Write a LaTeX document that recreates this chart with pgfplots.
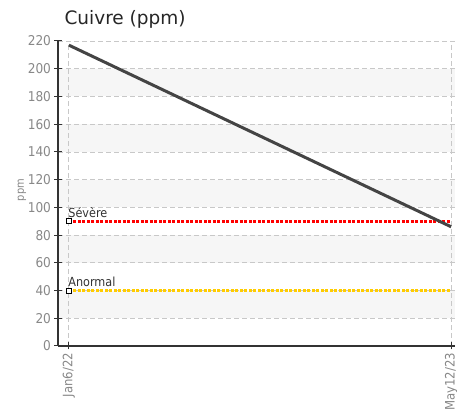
\documentclass[border=0pt]{standalone}
\usepackage{fontspec}
\setmainfont{DejaVu Sans}
\newfontfamily\condfont{DejaVu Sans Condensed}
\usepackage{pgfplots}
\pgfplotsset{compat=1.18}

\definecolor{tickgray}{HTML}{888888}
\definecolor{gridgray}{HTML}{C8C8C8}
\definecolor{bandgray}{HTML}{F6F6F6}
\definecolor{linegray}{HTML}{444444}
\definecolor{sevred}{HTML}{FF0000}
\definecolor{anoyellow}{HTML}{FFCC00}

\begin{document}
\begin{tikzpicture}
\begin{axis}[
  set layers,
  scale only axis,
  width=397pt, height=305pt,
  xmin=-14, xmax=496,
  ymin=0, ymax=220,
  ytick={0,20,...,220},
  xtick={0,491},
  xticklabels={Jan6/22,May12/23},
  x tick label style={rotate=90, anchor=east, font=\condfont\fontsize{13}{14}\selectfont, text=tickgray},
  y tick label style={font=\condfont\fontsize{13.5}{15}\selectfont, text=tickgray},
  /pgf/number format/assume math mode=true,
  axis lines*=left,
  axis line style={draw=black!80, line width=1.2pt},
  tick style={draw=black!80, line width=1pt},
  tick align=center,
  major tick length=7pt,
  xmajorgrids, ymajorgrids,
  major grid style={draw=gridgray, dash pattern=on 5pt off 3pt, line width=0.8pt},
  clip=false,
]
\begin{pgfonlayer}{axis background}
  \pgfplotsinvokeforeach{20,60,100,140,180}{
    \fill[bandgray] (axis cs:-14,#1) rectangle (axis cs:496,#1+20);
  }
\end{pgfonlayer}
% Anormal
\addplot[anoyellow, line width=3pt, dash pattern=on 3pt off 1.5pt, mark=square*, mark indices={1},
  mark options={solid, fill=white, draw=black, line width=0.8pt, mark size=2.5pt}]
  coordinates {(0,40) (491,40)}
  node[pos=0, anchor=south west, xshift=-3pt, yshift=1pt, inner sep=1pt, text=black!80,
       font=\condfont\fontsize{12.5}{13}\selectfont] {Anormal};
% Severe
\addplot[sevred, line width=3pt, dash pattern=on 3pt off 1.5pt, mark=square*, mark indices={1},
  mark options={solid, fill=white, draw=black, line width=0.8pt, mark size=2.5pt}]
  coordinates {(0,90) (491,90)}
  node[pos=0, anchor=south west, xshift=-3pt, yshift=1pt, inner sep=1pt, text=black!80,
       font=\condfont\fontsize{12.5}{13}\selectfont] {Sévère};
% Cuivre
\addplot[linegray, line width=3pt, no marks] coordinates {(0,217) (491,86)};
\end{axis}
\node[anchor=west, text=black!85, font=\fontsize{18.5}{21}\selectfont] at (3pt,327pt) {Cuivre (ppm)};
\node[rotate=90, text=tickgray, font=\condfont\fontsize{11}{12}\selectfont] at (-36pt,156pt) {ppm};
\pgfresetboundingbox
\path[use as bounding box] (-58pt,-68pt) rectangle (399pt,346pt);
\end{tikzpicture}
\end{document}
